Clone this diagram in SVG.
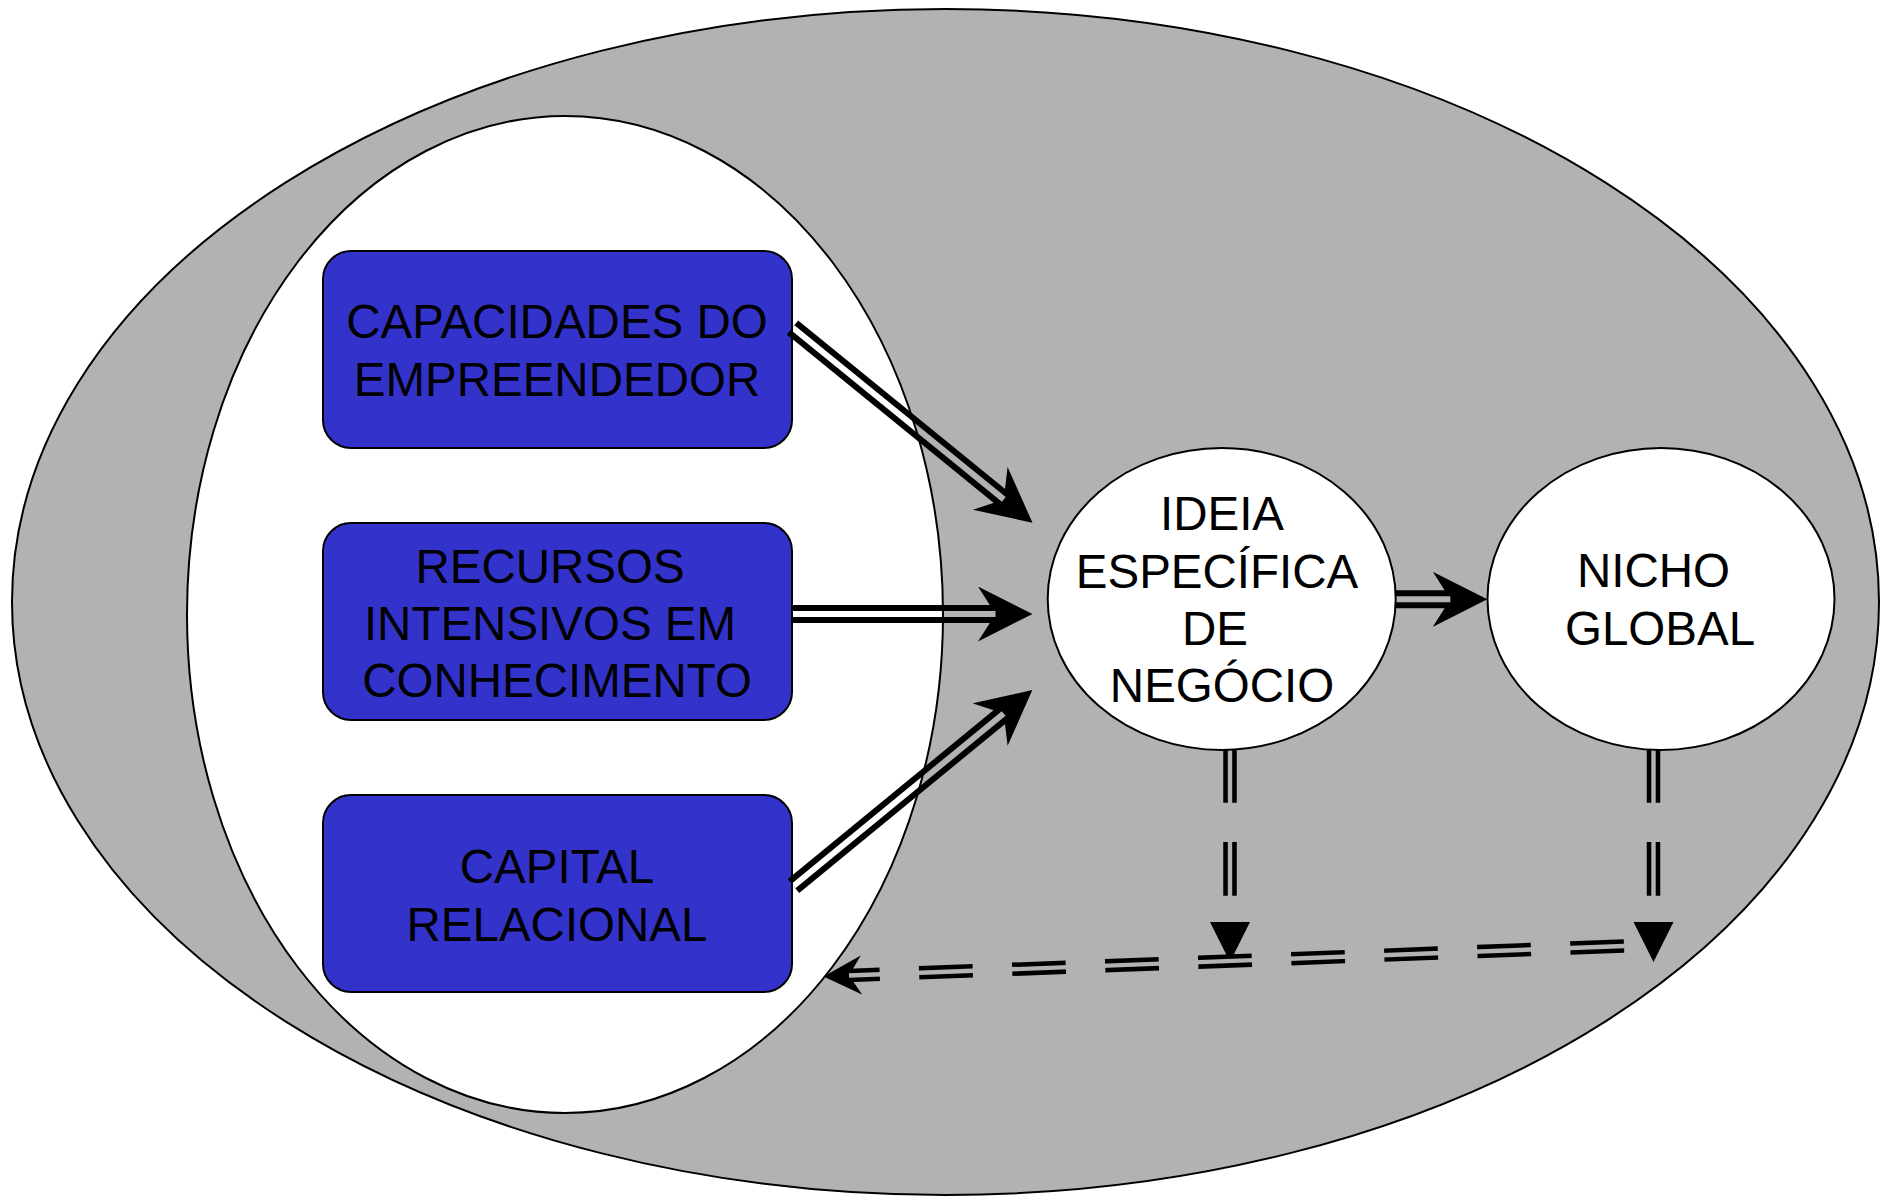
<svg xmlns="http://www.w3.org/2000/svg" width="1889" height="1196" viewBox="0 0 1889 1196">
<style>
.outer{fill:#b2b2b2;stroke:#000;stroke-width:2}
.inner{fill:#fff;stroke:#000;stroke-width:2}
.box{fill:#3333cc;stroke:#000;stroke-width:2}
.circ{fill:#fff;stroke:#000;stroke-width:2}
.lbl{font-family:"Liberation Sans",Arial,Helvetica,sans-serif;font-size:47.5px;fill:#000;text-anchor:middle}
.shaft{fill:none;stroke:#000;stroke-width:18}
.dash{fill:none;stroke:#000;stroke-width:13.5;stroke-dasharray:53.7 39.4}
.gap{fill:none;stroke:#000;stroke-width:6}
.gapd{fill:none;stroke:#000;stroke-width:4.4}
</style>
<defs>
<marker id="big" markerUnits="userSpaceOnUse" viewBox="0 0 56 56" markerWidth="56" markerHeight="56" refX="17.5" refY="27.5" orient="auto">
<path d="M0,0 L54.5,27.5 L0,55 L17.5,27.5 Z" fill="#000"/>
</marker>
<marker id="small" markerUnits="userSpaceOnUse" viewBox="0 0 40 40" markerWidth="40" markerHeight="40" refX="12.5" refY="19.5" orient="auto">
<path d="M0,0 L38,19.5 L0,39 L12.5,19.5 Z" fill="#000"/>
</marker>
<marker id="tri" markerUnits="userSpaceOnUse" viewBox="0 0 41 41" markerWidth="41" markerHeight="41" refX="0" refY="20" orient="auto">
<path d="M0,0 L40,20 L0,40 Z" fill="#000"/>
</marker>
<mask id="gaps" maskUnits="userSpaceOnUse" x="0" y="0" width="1889" height="1196">
<rect x="0" y="0" width="1889" height="1196" fill="#fff"/>
<path class="gap" d="M792.5,327.5 L1003.8,499.4"/>
<path class="gap" d="M792,614 L995.5,614"/>
<path class="gap" d="M793.5,886 L1003.7,713.5"/>
<path class="gap" d="M1396,599.3 L1450.3,599.3"/>
<path class="gapd" d="M1230,749 L1230,922"/>
<path class="gapd" d="M1653.5,749 L1653.5,922"/>
<path class="gapd" d="M1624,946 L849,975.5"/>
</mask>
</defs>
<g id="background">
<ellipse class="outer" cx="945.5" cy="602" rx="933.5" ry="593"/>
<ellipse class="inner" cx="565" cy="614.5" rx="378" ry="498.5"/>
</g>
<g id="capacidades">
<rect class="box" x="323" y="251" width="469" height="197" rx="28" ry="28"/>
<text class="lbl" x="557" y="338">CAPACIDADES DO</text>
<text class="lbl" x="557" y="396">EMPREENDEDOR</text>
</g>
<g id="recursos">
<rect class="box" x="323" y="523" width="469" height="197" rx="28" ry="28"/>
<text class="lbl" x="550" y="583">RECURSOS</text>
<text class="lbl" x="550" y="640">INTENSIVOS EM</text>
<text class="lbl" x="557" y="697">CONHECIMENTO</text>
</g>
<g id="capital">
<rect class="box" x="323" y="795" width="469" height="197" rx="28" ry="28"/>
<text class="lbl" x="557" y="883">CAPITAL</text>
<text class="lbl" x="557" y="941">RELACIONAL</text>
</g>
<g id="ideia">
<ellipse class="circ" cx="1221.7" cy="599" rx="174" ry="151"/>
<text class="lbl" x="1222" y="530">IDEIA</text>
<text class="lbl" x="1217" y="588">ESPECÍFICA</text>
<text class="lbl" x="1215" y="645">DE</text>
<text class="lbl" x="1222" y="702">NEGÓCIO</text>
</g>
<g id="nicho">
<ellipse class="circ" cx="1661" cy="599" rx="173.5" ry="151"/>
<text class="lbl" x="1653.5" y="587">NICHO</text>
<text class="lbl" x="1660" y="645">GLOBAL</text>
</g>
<g id="connectors" mask="url(#gaps)">
<path class="shaft" d="M792.5,327.5 L1003.8,499.4" marker-end="url(#big)"/>
<path class="shaft" d="M792,614 L995.5,614" marker-end="url(#big)"/>
<path class="shaft" d="M793.5,886 L1003.7,713.5" marker-end="url(#big)"/>
<path class="shaft" d="M1396,599.3 L1450.3,599.3" marker-end="url(#big)"/>
<path class="dash" d="M1624,946 L849,975.5" marker-end="url(#small)"/>
<path class="dash" d="M1230,749 L1230,922" marker-end="url(#tri)"/>
<path class="dash" d="M1653.5,749 L1653.5,922" marker-end="url(#tri)"/>
</g>
</svg>
